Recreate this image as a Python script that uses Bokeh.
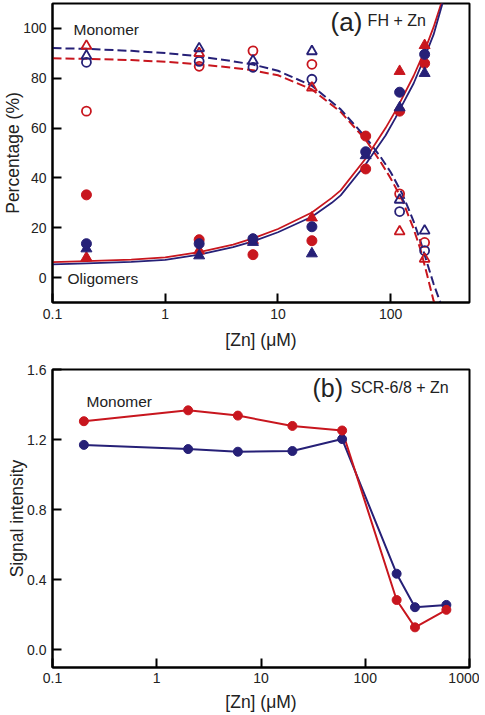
from bokeh.plotting import figure
from bokeh.layouts import column
from bokeh.models import FixedTicker, Label, PrintfTickFormatter, Range1d, CustomJSTickFormatter
from bokeh.embed import file_html
from bokeh.resources import INLINE

NaN = float("nan")
RED = "#c8161e"
BLUE = "#262077"
FONT = "Liberation Sans"
TXT = "#222222"

# ---------------- Panel (a): FH + Zn ----------------
zn_a = [0.2, 2, 6, 20, 60, 120, 200]
# oligomers (filled markers)
olig_red_circle = [33.2, 15.2, 9.2, 14.8, 56.8, 66.8, 86.0]
olig_red_circle_b_x = [60]
olig_red_circle_b = [43.6]
olig_red_tri = [8.0, 10.8, 15.0, 24.0, NaN, 82.8, 93.2]
olig_blue_circle = [13.6, 13.6, 15.6, 20.4, 50.5, 74.4, 89.6]
olig_blue_tri = [11.6, 8.8, 14.2, 9.6, 49.0, 68.2, 82.0]
# monomer (open markers)
mono_red_circle = [66.8, 84.8, 91.0, 85.6, NaN, 33.6, 14.1]
mono_red_tri = [93.0, 90.0, NaN, 76.2, NaN, 18.5, 7.5]
mono_blue_circle = [86.4, 86.8, 84.4, 79.6, NaN, 26.5, 10.8]
mono_blue_tri = [89.0, 92.0, 87.0, 90.8, NaN, 31.2, 18.8]

# fitted curves
fit_olig_red_x = [0.1, 0.2, 0.5, 1, 2, 4, 6, 10, 20, 30, 36, 60, 90, 110, 120, 160, 200, 240, 283]
fit_olig_red_y = [6.2, 6.6, 7.2, 8.1, 10.2, 13.2, 15.7, 19.5, 26.1, 32.0, 35.0, 47.8, 60.0, 66.8, 70.0, 81.0, 91.0, 100.5, 110.5]
fit_olig_blue_x = [0.1, 0.2, 0.5, 1, 2, 4, 6, 10, 20, 30, 36, 60, 90, 110, 120, 160, 200, 240, 290]
fit_olig_blue_y = [5.3, 5.7, 6.3, 7.1, 9.2, 12.2, 14.5, 18.2, 24.4, 30.0, 33.0, 45.5, 57.0, 64.0, 67.3, 78.0, 88.5, 97.5, 110.5]
fit_mono_red_x = [0.1, 0.2, 0.5, 1, 2, 4, 6, 10, 20, 36, 60, 82, 100, 127, 159, 184, 210, 240, 255]
fit_mono_red_y = [88.0, 87.8, 87.3, 86.6, 85.6, 84.2, 83.2, 81.2, 75.5, 66.5, 55.3, 46.2, 39.8, 31.0, 19.8, 11.2, 1.2, -9.3, -12.0]
fit_mono_blue_x = [0.1, 0.2, 0.5, 1, 2, 4, 6, 10, 20, 36, 60, 82, 100, 127, 159, 184, 210, 240, 272, 285]
fit_mono_blue_y = [92.1, 91.8, 91.0, 90.1, 88.8, 86.8, 85.5, 83.0, 77.0, 67.5, 56.3, 48.2, 42.3, 33.5, 22.8, 14.5, 6.0, -2.5, -9.3, -12.0]

xticks_a = [0.1, 1, 10, 100]
yticks_a = [0, 20, 40, 60, 80, 100]

# ---------------- Panel (b): SCR-6/8 + Zn ----------------
zn_b = [0.2, 2, 6, 20, 60, 200, 300, 600]
sig_red = [1.305, 1.367, 1.337, 1.278, 1.252, 0.285, 0.129, 0.229]
sig_blue = [1.170, 1.146, 1.131, 1.135, 1.203, 0.435, 0.244, 0.257]
xticks_b = [0.1, 1, 10, 100, 1000]
yticks_b = [0.0, 0.4, 0.8, 1.2, 1.6]


def style(p, xticks, yticks, x_tick_standoff, x_label_standoff):
    p.xgrid.visible = False
    p.ygrid.visible = False
    p.outline_line_color = "black"
    p.outline_line_width = 2
    p.background_fill_color = "white"
    p.border_fill_color = "white"
    p.xaxis.ticker = FixedTicker(ticks=xticks, minor_ticks=[])
    p.yaxis.ticker = FixedTicker(ticks=yticks, minor_ticks=[])
    p.xaxis.formatter = CustomJSTickFormatter(code="return tick.toString();")
    for ax in (p.xaxis[0], p.yaxis[0]):
        ax.axis_line_width = 2
        ax.axis_line_color = "black"
        ax.major_tick_in = 9
        ax.major_tick_out = 0
        ax.major_tick_line_width = 2
        ax.major_tick_line_color = "black"
        ax.minor_tick_in = 0
        ax.minor_tick_out = 0
        ax.major_label_text_font = FONT
        ax.major_label_text_font_size = "14px"
        ax.major_label_text_color = TXT
        ax.axis_label_text_font = FONT
        ax.axis_label_text_font_size = "17.5px"
        ax.axis_label_text_font_style = "normal"
        ax.axis_label_text_color = TXT
    p.xaxis.major_label_standoff = x_tick_standoff
    p.xaxis.axis_label_standoff = x_label_standoff
    p.yaxis.major_label_standoff = 6
    p.yaxis.axis_label_standoff = -3


p1 = figure(x_axis_type="log", x_range=Range1d(0.1, 500), y_range=Range1d(-10, 110),
            frame_width=417, frame_height=299,
            min_border_left=52, min_border_right=10, min_border_top=3, min_border_bottom=57,
            output_backend="svg", toolbar_location=None,
            x_axis_label="[Zn] (\u03bcM)", y_axis_label="Percentage (%)")
style(p1, xticks_a, yticks_a, 6, 8)

# fit curves
p1.line(fit_mono_red_x, fit_mono_red_y, line_color=RED, line_width=2, line_dash="9 4")
p1.line(fit_mono_blue_x, fit_mono_blue_y, line_color=BLUE, line_width=2, line_dash="9 4")
p1.line(fit_olig_red_x, fit_olig_red_y, line_color=RED, line_width=1.8)
p1.line(fit_olig_blue_x, fit_olig_blue_y, line_color=BLUE, line_width=1.8)

# markers
p1.scatter(zn_a, mono_red_circle, marker="circle", size=9, fill_color=None, line_color=RED, line_width=1.8)
p1.scatter(zn_a, mono_blue_circle, marker="circle", size=9, fill_color=None, line_color=BLUE, line_width=1.8)
p1.scatter(zn_a, mono_red_tri, marker="triangle", size=10, fill_color=None, line_color=RED, line_width=1.8)
p1.scatter(zn_a, mono_blue_tri, marker="triangle", size=10, fill_color=None, line_color=BLUE, line_width=1.8)
p1.scatter(zn_a, olig_red_tri, marker="triangle", size=11, fill_color=RED, line_color=RED)
p1.scatter(zn_a, olig_red_circle, marker="circle", size=10, fill_color=RED, line_color=RED)
p1.scatter(olig_red_circle_b_x, olig_red_circle_b, marker="circle", size=10, fill_color=RED, line_color=RED)
p1.scatter(zn_a, olig_blue_tri, marker="triangle", size=11, fill_color=BLUE, line_color=BLUE)
p1.scatter(zn_a, olig_blue_circle, marker="circle", size=10, fill_color=BLUE, line_color=BLUE)

p1.add_layout(Label(x=0.1535, y=99.6, text="Monomer", text_font=FONT, text_font_size="15.5px",
                    text_baseline="middle", text_color=TXT))
p1.add_layout(Label(x=0.136, y=-0.4, text="Oligomers", text_font=FONT, text_font_size="15.5px",
                    text_baseline="middle", text_color=TXT))
p1.add_layout(Label(x=29.3, y=102.6, text="(a)", text_font=FONT, text_font_size="26px",
                    text_baseline="middle", text_color=TXT))
p1.add_layout(Label(x=62.4, y=103.0, text="FH + Zn", text_font=FONT, text_font_size="16px",
                    text_baseline="middle", text_color=TXT))

p2 = figure(x_axis_type="log", x_range=Range1d(0.1, 1000), y_range=Range1d(-0.1, 1.6),
            frame_width=417, frame_height=298,
            min_border_left=52, min_border_right=10, min_border_top=10, min_border_bottom=46,
            output_backend="svg", toolbar_location=None,
            x_axis_label="[Zn] (\u03bcM)", y_axis_label="Signal intensity")
style(p2, xticks_b, yticks_b, 5, 6)
p2.yaxis.formatter = PrintfTickFormatter(format="%.1f")

p2.line(zn_b, sig_blue, line_color=BLUE, line_width=2)
p2.line(zn_b, sig_red, line_color=RED, line_width=2)
p2.scatter(zn_b, sig_blue, marker="circle", size=9, fill_color=BLUE, line_color=BLUE)
p2.scatter(zn_b, sig_red, marker="circle", size=9, fill_color=RED, line_color=RED)

p2.add_layout(Label(x=0.212, y=1.417, text="Monomer", text_font=FONT, text_font_size="15.5px",
                    text_baseline="middle", text_color=TXT))
p2.add_layout(Label(x=31.2, y=1.494, text="(b)", text_font=FONT, text_font_size="25px",
                    text_baseline="middle", text_color=TXT))
p2.add_layout(Label(x=72.2, y=1.497, text="SCR-6/8 + Zn", text_font=FONT, text_font_size="16px",
                    text_baseline="middle", text_color=TXT))

layout = column(p1, p2)
open("out.html", "w").write(file_html(layout, INLINE))
